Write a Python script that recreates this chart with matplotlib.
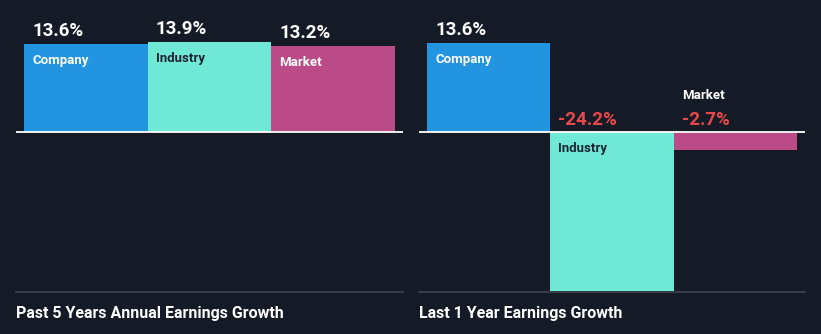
import matplotlib
matplotlib.use("Agg")
import matplotlib.pyplot as plt

# Earnings growth, in percent
categories = ["Company", "Industry", "Market"]
past_5y_growth = [13.6, 13.9, 13.2]
last_1y_growth = [13.6, -24.2, -2.7]
panel_titles = ["Past 5 Years Annual Earnings Growth", "Last 1 Year Earnings Growth"]

bg = "#151b26"
bar_colors = ["#2394df", "#70e8d6", "#bb4b87"]
name_colors = ["white", "#1c2433", "white"]
neg_color = "#e8484a"

W, H = 821, 334
plt.rcParams["font.family"] = ["Roboto", "DejaVu Sans"]

fig = plt.figure(figsize=(W / 100, H / 100), dpi=100, facecolor=bg)


def px_axes(x0, x1, y_top, y_bot):
    return fig.add_axes([x0 / W, 1 - y_bot / H, (x1 - x0) / W, (y_bot - y_top) / H])


def draw_panel(x0, x1, values, title, ylim):
    ax = px_axes(x0, x1, 20, 292)
    ax.set_facecolor(bg)
    pad = 8 / ((x1 - x0 - 16) / 3)
    ax.set_xlim(-0.5 - pad, 2.5 + pad)
    ax.set_ylim(*ylim)
    ax.axis("off")
    ax.bar(range(3), values, width=1.0, color=bar_colors, linewidth=0, zorder=2)
    ax.axhline(0, color="white", lw=1.3, zorder=3)

    for i, (name, v) in enumerate(zip(categories, values)):
        left = i - 0.5
        label = f"{v:.1f}%"
        if v >= 0:
            ax.annotate(label, (left, v), xytext=(8, 8), textcoords="offset pixels",
                        color="white", fontsize=13.5, fontweight="bold",
                        ha="left", va="baseline")
            ax.annotate(name, (left, v), xytext=(8, -20), textcoords="offset pixels",
                        color=name_colors[i], fontsize=9.5, fontweight="bold",
                        ha="left", va="baseline")
        else:
            ax.annotate(label, (left, 0), xytext=(8, 7), textcoords="offset pixels",
                        color=neg_color, fontsize=13.5, fontweight="bold",
                        ha="left", va="baseline")
            if v < -5:
                ax.annotate(name, (left, 0), xytext=(8, -20), textcoords="offset pixels",
                            color=name_colors[i], fontsize=9.5, fontweight="bold",
                            ha="left", va="baseline")
            else:
                ax.annotate(name, (left, 0), xytext=(8, 33), textcoords="offset pixels",
                            color="white", fontsize=9.5, fontweight="bold",
                            ha="left", va="baseline")

    # separator and panel title
    fig.add_artist(plt.Line2D([x0 / W, x1 / W], [1 - 292 / H] * 2,
                              color="#3d4450", lw=1.2, transform=fig.transFigure))
    fig.text(x0 / W, 1 - 318 / H, title, color="white", fontsize=11.5,
             fontweight="bold", ha="left", va="baseline",
             family=["Liberation Sans Narrow", "Roboto", "DejaVu Sans"])


draw_panel(16, 403, past_5y_growth, panel_titles[0], (-24.6, 17.23))
draw_panel(419, 805, last_1y_growth, panel_titles[1], (-24.35, 17.05))

fig.savefig("out.png", dpi=100, facecolor=bg)
